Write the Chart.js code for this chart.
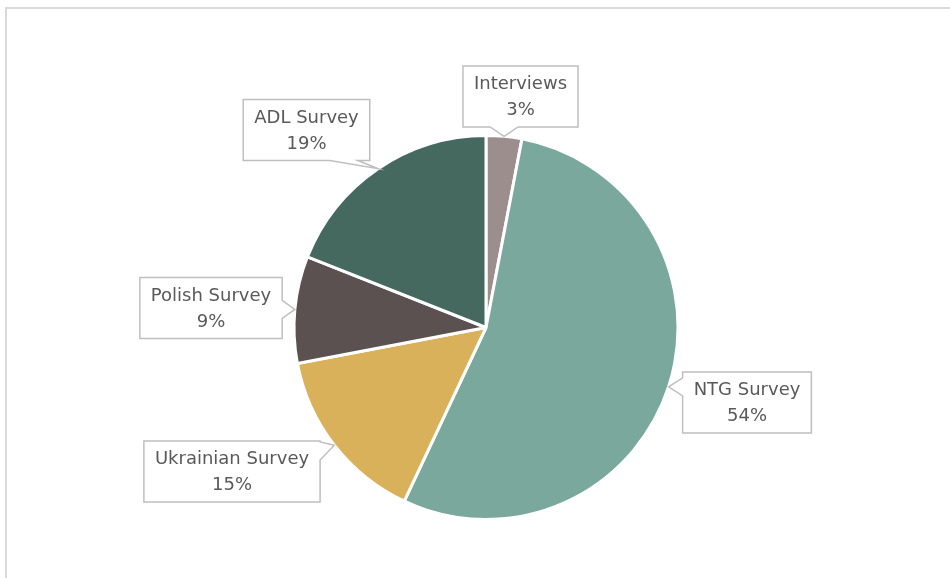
<!DOCTYPE html>
<html>
<head>
<meta charset="utf-8">
<script src="https://cdn.jsdelivr.net/npm/chart.js@4.4.0/dist/chart.umd.min.js"></script>
<style>
  html, body { margin: 0; padding: 0; background: #fff; }
  #wrap { position: relative; width: 950px; height: 578px; overflow: hidden; }
  #frame { position: absolute; left: 5px; top: 7px; width: 2000px; height: 2000px;
           border-left: 2px solid #d9d9d9; border-top: 2px solid #d9d9d9; }
  canvas { position: absolute; left: 0; top: 0; }
</style>
</head>
<body>
<div id="wrap">
  <div id="frame"></div>
  <canvas id="pieChart" width="950" height="578"></canvas>
</div>
<script>
// data, clockwise from 12 o'clock
var categories = ['Interviews', 'NTG Survey', 'Ukrainian Survey', 'Polish Survey', 'ADL Survey'];
var shares = [3, 54, 15, 9, 19];
var sliceColors = ['#9B8E8C', '#7BA89C', '#D9B15A', '#5B5150', '#45685F'];

// where each callout box sits, relative to the pie centre
var calloutOffsets = [[34.5, -231], [261, 75], [-254, 144], [-275, -19.5], [-179.5, -197.5]];

var calloutPlugin = {
    id: 'callouts',
    afterDraw: function (chart) {
        var ctx = chart.ctx;
        var meta = chart.getDatasetMeta(0);
        var total = shares.reduce(function (a, b) { return a + b; }, 0);
        ctx.save();
        ctx.font = '18px "DejaVu Sans"';
        ctx.textAlign = 'center';
        ctx.textBaseline = 'middle';

        meta.data.forEach(function (arc, i) {
            var p = arc.getProps(['x', 'y', 'startAngle', 'endAngle', 'outerRadius'], true);
            var mid = (p.startAngle + p.endAngle) / 2;
            var tip = { x: p.x + Math.cos(mid) * p.outerRadius, y: p.y + Math.sin(mid) * p.outerRadius };

            var line1 = categories[i];
            var line2 = Math.round(shares[i] / total * 100) + '%';
            var w = Math.max(ctx.measureText(line1).width, ctx.measureText(line2).width) + 22;
            var h = 61;
            var cx = p.x + calloutOffsets[i][0];
            var cy = p.y + calloutOffsets[i][1];
            var L = cx - w / 2, R = cx + w / 2, T = cy - h / 2, B = cy + h / 2;

            // which edge the pointer leaves from
            var nx = (tip.x - cx) / (w / 2), ny = (tip.y - cy) / (h / 2);
            var edge;
            if (Math.abs(nx) > Math.abs(ny)) edge = nx > 0 ? 'right' : 'left';
            else edge = ny > 0 ? 'bottom' : 'top';

            var hh = 14, margin = 26, hv = 9, c;
            ctx.beginPath();
            ctx.moveTo(L, T);
            if (edge === 'top') {
                c = Math.min(Math.max(tip.x, L + margin), R - margin);
                ctx.lineTo(c - hh, T); ctx.lineTo(tip.x, tip.y); ctx.lineTo(c + hh, T);
            }
            ctx.lineTo(R, T);
            if (edge === 'right') {
                c = Math.min(Math.max(tip.y, T + 10), B - 10);
                ctx.lineTo(R, c - hv); ctx.lineTo(tip.x, tip.y); ctx.lineTo(R, c + hv);
            }
            ctx.lineTo(R, B);
            if (edge === 'bottom') {
                c = Math.min(Math.max(tip.x, L + margin), R - margin);
                ctx.lineTo(c + hh, B); ctx.lineTo(tip.x, tip.y); ctx.lineTo(c - hh, B);
            }
            ctx.lineTo(L, B);
            if (edge === 'left') {
                c = Math.min(Math.max(tip.y, T + 10), B - 10);
                ctx.lineTo(L, c + hv); ctx.lineTo(tip.x, tip.y); ctx.lineTo(L, c - hv);
            }
            ctx.closePath();
            ctx.fillStyle = '#ffffff';
            ctx.fill();
            ctx.lineWidth = 1.5;
            ctx.strokeStyle = '#bfbfbf';
            ctx.stroke();

            ctx.fillStyle = '#595959';
            ctx.fillText(line1, cx, cy - 12);
            ctx.fillText(line2, cx, cy + 14);
        });
        ctx.restore();
    }
};

new Chart(document.getElementById('pieChart'), {
    type: 'pie',
    data: {
        labels: categories,
        datasets: [{
            data: shares,
            backgroundColor: sliceColors,
            borderColor: '#ffffff',
            borderWidth: 3,
            hoverOffset: 0
        }]
    },
    options: {
        responsive: false,
        animation: false,
        radius: 192,
        layout: { padding: { left: 22, right: 0, top: 77, bottom: 0 } },
        plugins: {
            legend: { display: false },
            tooltip: { enabled: false }
        }
    },
    plugins: [calloutPlugin]
});
</script>
</body>
</html>
